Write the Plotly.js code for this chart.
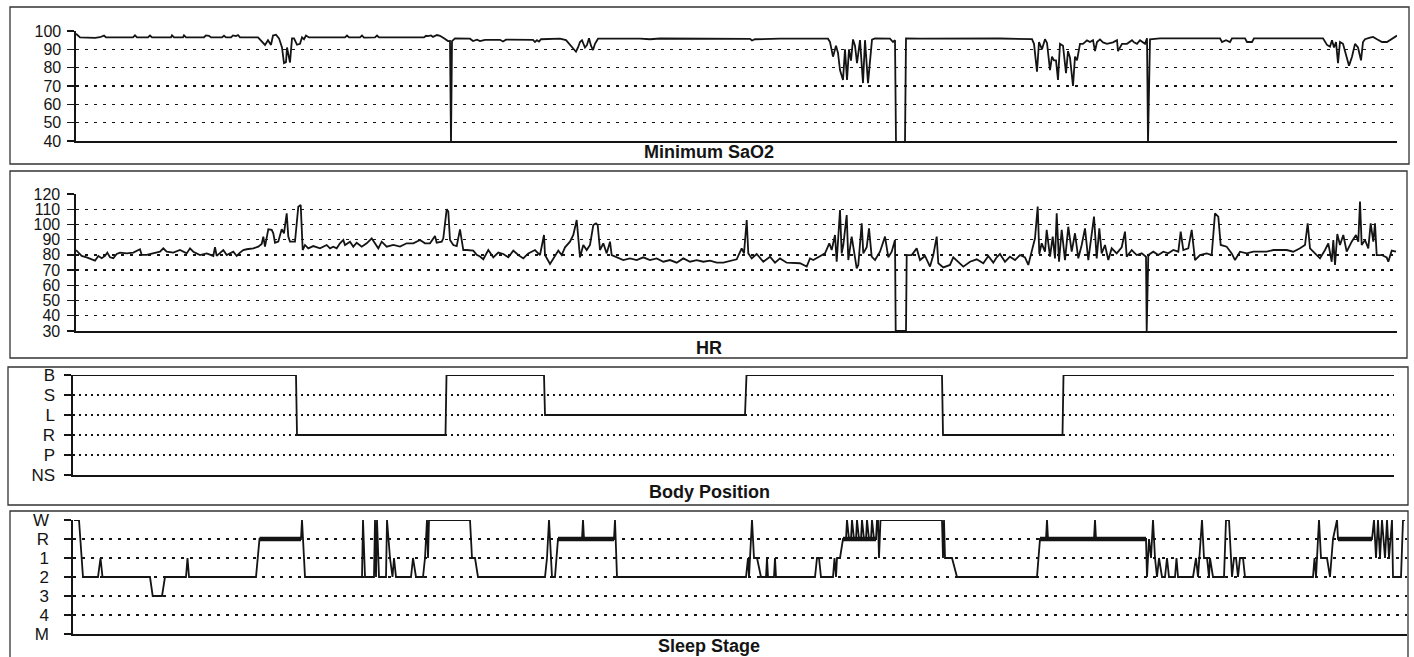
<!DOCTYPE html>
<html>
<head>
<meta charset="utf-8">
<script src="https://cdn.plot.ly/plotly-3.0.1.min.js"></script>
<style>
  html, body { margin: 0; padding: 0; background: #fff; }
  #chart { width: 1414px; height: 657px; }
</style>
</head>
<body>
<div id="chart"></div>
<script>
// Elapsed recording time in 20-second units (0 = start of the SaO2/HR plots).

// ---- Minimum SaO2 (%) ----
const sao2Time = [0,4,19,24,28,30,57,59,61,72,74,76,95,96,98,107,108,110,128,130,133,135,146,148,150,155,157,160,162,164,182,186,189,192,195,197,200,203,206,208,210,211,213,214,216,218,221,224,226,228,230,233,269,271,273,284,286,288,299,301,303,348,350,352,355,357,361,364,368,372,374,375,376,379,394,397,401,404,409,424,427,430,457,459,461,463,465,484,490,494,498,500,502,504,506,509,511,513,515,517,519,522,564,574,584,624,674,676,679,704,752,754,757,760,762,764,767,769,771,773,775,777,779,781,784,787,789,792,796,799,814,817,819,820,829,830,844,924,956,958,961,963,966,969,971,974,976,978,980,982,984,987,990,992,994,997,999,1001,1004,1007,1011,1014,1017,1019,1021,1024,1027,1031,1037,1041,1042,1046,1051,1056,1058,1061,1064,1069,1071,1072,1074,1084,1144,1146,1150,1154,1156,1169,1171,1176,1178,1247,1251,1254,1256,1258,1260,1262,1264,1267,1271,1273,1276,1279,1282,1285,1287,1289,1294,1297,1301,1306,1311,1314,1319,1321];
const sao2Value = [98.5,96.5,96.3,96.6,97.5,96.5,96.5,97.6,96.5,96.5,97.5,96.5,96.5,97.6,96.5,96.5,97.6,96.5,96.6,97.6,97.4,96.5,96.5,97.4,96.5,96.5,97.6,97.2,97.8,96.5,96.5,94,92.4,95,92.4,97.5,98,96,91,82.5,83,91,86,82.8,96,96,92.5,93,96.5,95.5,97.5,96.5,96.5,97.5,96.5,96.5,97.5,96.4,96.5,97.5,96.5,96.5,97.4,97.2,97.6,96.8,97.8,97.4,96,94.5,94.6,39,94.5,96,95.8,94.5,95.3,94.5,95.2,95.2,94.3,95.3,95.2,94,95,94.2,95.5,95.8,95,92.5,90,88.7,91,94,95,91,92.4,96,92,89.6,93,95.8,95.8,95.5,95.9,95.8,95.7,94.8,95.5,95.8,95.8,94,86,92,88,78.7,73.3,90,73.3,90,83.8,95.4,92,82.5,95,71.6,95,71.6,95.3,96,95.8,94,95,39,39,96,95.8,95.9,95.6,93,77.8,94,90,95.5,93.5,78.7,86,84,84,73.3,93,92,77,89,85.5,70,86,84,93,93,94.9,94,95,89,94,95.4,93.8,93,93.8,95,89,93,93,95,93.8,93,95,93,96,39,95.5,96,96,94,95,94,96,96,94,94,96,96,92.4,91.5,95,91,94,82.5,94,93,84,81,86,93,91,84,94,95.5,96.4,96.8,95.5,94,94,95,96.5,97.5];

// ---- HR (beats/min) ----
const hrTime = [0,5.7,10.7,15.7,19,22.3,25.7,29,31.3,34,37.3,40.7,44,50.7,57.3,64,65.7,70.7,77.3,84,87.3,90.7,97.3,104,110.7,114,117.3,124,130.7,137.3,139,140.7,147.3,150.7,157.3,160.7,164,167.3,170.7,177.3,182.3,185.7,187.3,189,192.3,195.7,197.3,199,202.3,205.7,208,210.7,212.3,214,219,222.3,224.7,226.7,229,232.3,237.3,244,250.7,254,257.3,260.7,264,267.3,269,274,277.3,280.7,285.7,290.7,295.7,299,302.3,305.7,310.7,317.3,324,330.7,337.3,344,349,354,359,360.7,365.7,367.3,370.7,372.3,374,377.3,380.7,384,385.7,387.3,390.7,397.3,400.7,404,407.3,412.3,417.3,422.3,427.3,432.3,437.3,442.3,447.3,452.3,459,464,468,469,474,477.3,482.3,485.7,489,494,497.3,500.7,504,507.3,510.7,514,517.3,520,521.7,524,527.3,530.7,534,535.7,540.7,547.3,554,560.7,567.3,574,580.7,587.3,594,600.7,607.3,614,620.7,627.3,634,640.7,647.3,654,660.7,665.7,668,670.7,672.3,675.7,680.7,687.3,694,699,704,710.7,717.3,724,730.7,734,737.3,744,749,753.3,755.7,759,760.7,764,765.7,767.3,770.7,772.3,775.7,780.7,782.3,785.7,787.3,790.7,793,795.7,799,804,809,812.3,815.7,819,819.7,830,830.7,835.7,840.7,844,849,854,857.3,860.7,862.3,867.3,874,877.3,882.3,887.3,894,900.7,907.3,912.3,917.3,920.7,924,929,934,939,944,949,952.3,955.7,959,961.7,963.3,965.7,969,970.7,974,976.7,979,980.7,983,985.7,989,992.3,995.7,999,1002.3,1005.7,1009,1012.3,1015.7,1018,1020.7,1023.3,1025.7,1029,1032.3,1035.7,1040.7,1045.7,1049,1050.7,1055.7,1060.7,1065.7,1070,1070.7,1072.3,1077.3,1082.3,1087.3,1092.3,1097.3,1102.3,1104.7,1107.3,1112.3,1115.7,1119,1124,1130.7,1135.7,1139,1142.3,1144.7,1150.7,1155.7,1159,1164,1170.7,1177.3,1184,1190.7,1197.3,1204,1210.7,1217.3,1224,1229,1231.7,1234,1239,1244,1249,1252.3,1255.7,1257.3,1259,1261.3,1264,1267.3,1270.7,1275.7,1280,1282.3,1284,1285.7,1289,1292.3,1294.7,1297.3,1299,1300.7,1305.7,1310.7,1312.3,1315.7,1320];
const hrValue = [83.2,79.3,78.4,77,76.2,79.3,77.8,79.3,81.5,78.4,77.8,80.6,81.5,81,81.5,83.7,80,80,81,82.1,84.3,82.1,81.5,83.2,81,84.3,82.1,79.9,81,79.3,85,79.3,83.2,79.9,82.1,79.3,81.5,83.2,83.7,84.3,85.4,87.2,92,85.4,96.8,96.4,94.2,88,88.7,96.8,94.2,107.3,92,88.7,88.7,111.7,112.8,83.2,86.5,84.3,85.8,84.3,86.5,84.3,85.4,84.3,87.6,89.8,86.5,88.7,85.4,88,85.4,87.6,90.9,87.6,84.3,88.7,85.4,86.5,85.4,87.6,87.6,89.8,87.6,87.6,92.4,88,88.7,90.9,110,108.5,89.8,86.5,85.8,96.8,90.9,83.2,83.2,82.8,80,78.9,77.1,83.2,78.4,81.5,80.6,78.4,82.8,79.9,77.7,81,83.2,79.9,93.1,79.9,74,77.7,82.8,79.9,85,88.7,93.1,102.9,78.4,86.5,83.2,86.5,99.6,100.7,99.6,83.2,87.6,81,88.7,79.9,78.4,76.6,77.7,76.6,78.4,76.6,77.7,75.5,76.6,74.9,77.7,75.5,76.6,75.5,76.2,74.9,74.9,76.2,77.1,84.3,81,102.9,81,77.7,80.6,75.5,78.8,74.9,77.7,74.9,74.5,74.5,72.3,77.7,76.6,79.3,81,87.6,83.2,93.1,75.5,109.5,81,86.5,106.2,76.6,92,71.2,73.4,100.7,81,85,97.4,78.8,76.6,82.1,92,78.4,82.1,89.8,30,30,79.9,79.9,84.3,76.6,79.3,72.3,79.9,92,74.5,71.8,73.4,78.4,75.5,72.3,75.5,77.1,74.5,79.3,74.9,78.4,80.6,75.5,78.8,76.6,79.9,78.4,73.4,82.1,90.9,111.7,80.6,87.6,82.1,96.4,78.8,92,77.7,107.3,75.5,96.4,76.6,98.5,82.1,94.2,77.7,86.5,97.4,76.6,94.2,105.1,77.7,97.4,81,86.5,76.6,84.3,81,85,95.3,78.8,83.2,79.9,81,78.8,30,79.9,82.1,79.9,82.1,81,83.2,82.1,95.3,83.2,84.3,96.4,76.6,79.9,81,79.9,107.3,105.1,86.5,85.4,81,76.6,82.1,81,82.1,82.1,82.1,83.2,83.2,83.2,82.1,84.3,86.5,100.7,84.3,81,77.7,83.2,87.6,75.5,89.8,73.4,93.7,86.5,93.1,82.1,88.7,93.1,88.7,115,86.5,89.8,84.3,100.7,88.7,100.7,79.9,79.9,78.4,75.5,82.8,82.1];

// ---- Body Position ----
const posCategories = ['NS','P','R','L','S','B'];
const posTime  = [-3,220,221,369.5,370.5,468,469,669,670.5,866,867,986.5,987.5,1318];
const posValue = ['B','B','R','R','B','B','L','L','B','B','R','R','B','B'];

// ---- Sleep Stage ----
const stageCategories = ['M','4','3','2','1','R','W'];
const stageTime = [-2,3,7,22,24.5,26.5,74,76.7,86,89,110,111.5,113,180,183.5,225,226,227,229,286,287,289,298,299,300,301,303,310,311,314,316.5,318,320,335,337,340,347,349,351,352,353,394,396,399,402,469,471,473,476,479,482,506,507,508,538,539,541,670,672,673,674,676,678,681,685,690,691,692,698,699,700,739,741,743,745,757,758.5,760,761,764,767,770,771,773,775,776,778,780,781,783,785,786,788,790,791,793,795,796,798,800,801,802,803,804.5,866,867,868,869,876,881,961,964,970,971,972,1018,1019,1020,1070,1071,1073,1075,1077,1079,1081,1083,1086,1089,1091,1093,1099,1100.5,1102,1117,1120,1122,1126,1128,1131,1133,1134,1137,1148,1150,1153,1156,1158,1160,1162,1164,1167,1169,1237,1238.5,1240,1242,1243,1245,1251,1254,1257,1261,1262,1296,1298,1300,1302,1304,1306,1309,1311,1313,1316,1317,1325,1327,1329];
const stageValue = ['W','W','2','2','1','2','2','3','3','2','2','1','2','2','R','R','W','R','2','2','W','2','2','W','2','W','2','2','W','1','2','1','2','2','1','2','2','1','W','1','W','W','1','1','2','2','1','W','2','2','R','R','W','R','R','W','2','2','1','2','1','W','1','1','2','2','1','2','2','1','2','2','1','1','2','2','1','2','1','1','R','R','W','R','R','W','R','R','W','R','R','W','R','R','W','R','R','W','R','R','W','W','1','W','W','1','W','1','1','2','2','R','R','W','R','R','W','R','R','2','R','1','W','1','2','1','2','2','1','2','2','1','2','2','1','2','W','1','1','2','1','2','2','W','W','2','1','1','2','1','1','2','2','1','2','R','W','1','1','2','R','W','R','R','W','1','W','1','W','1','W','1','W','2','2','W','W'];
// Dense REM stretches (drawn as a heavy band at the R level)
const remStart = [183.5,482,767,964,1262];
const remEnd   = [225,538,800,1070,1296];

const titles = ['Minimum SaO2','HR','Body Position','Sleep Stage'];

// ---------------- build ----------------
const W = 1414, H = 657;
const fx = px => px / W;
const fy = py => 1 - py / H;
const ink = '#141414';
const fontFam = 'Liberation Sans, Arial, sans-serif';
const tickFont = {family: fontFam, size: 16, color: ink};
const catFont = {family: fontFam, size: 17, color: ink};

const remX = [], remY = [];
remStart.forEach((s, i) => { remX.push(s, remEnd[i], null); remY.push('R', 'R', null); });

const traces = [
  {x: sao2Time, y: sao2Value, xaxis: 'x', yaxis: 'y', mode: 'lines', line: {color: ink, width: 1.8}, hoverinfo: 'skip'},
  {x: hrTime, y: hrValue, xaxis: 'x2', yaxis: 'y2', mode: 'lines', line: {color: ink, width: 1.8}, hoverinfo: 'skip'},
  {x: posTime, y: posValue, xaxis: 'x3', yaxis: 'y3', mode: 'lines', line: {color: ink, width: 1.8}, hoverinfo: 'skip'},
  {x: stageTime, y: stageValue, xaxis: 'x4', yaxis: 'y4', mode: 'lines', line: {color: ink, width: 1.8}, hoverinfo: 'skip'},
  {x: remX, y: remY, xaxis: 'x4', yaxis: 'y4', mode: 'lines', line: {color: ink, width: 4.5}, hoverinfo: 'skip'}
];

function xAx(anchor, x0, x1, r0, r1) {
  return {anchor: anchor, domain: [fx(x0), fx(x1)], range: [r0, r1], showgrid: false, zeroline: false,
          showline: true, linecolor: ink, linewidth: 1.6, showticklabels: false, ticks: '', fixedrange: true};
}
function yAx(anchor, y0, y1, extra) {
  return Object.assign({anchor: anchor, domain: [fy(y1), fy(y0)], showgrid: true, gridcolor: ink, gridwidth: 1.4,
          griddash: '3px,6px', zeroline: false, showline: true, linecolor: ink, linewidth: 1.6,
          ticks: 'outside', ticklen: 7, tickwidth: 1.4, tickcolor: ink, tickfont: tickFont, fixedrange: true}, extra);
}

const boxes = [[10, 7, 1409, 164], [10, 171, 1407, 358], [8, 367, 1408, 505], [10, 511, 1408, 670]];
const shapes = boxes.map(b => ({type: 'rect', xref: 'paper', yref: 'paper', x0: fx(b[0]), x1: fx(b[2]),
  y0: fy(b[3]), y1: fy(b[1]), line: {color: '#333', width: 1.3}, fillcolor: 'rgba(0,0,0,0)', layer: 'below'}));

const titleY = [152, 348, 492, 646];
const annotations = titles.map((t, i) => ({text: t, xref: 'paper', yref: 'paper', x: fx(709), y: fy(titleY[i]),
  xanchor: 'center', yanchor: 'middle', showarrow: false,
  font: {family: fontFam, size: 18, color: ink, weight: 'bold'}}));

const layout = {
  width: W, height: H, margin: {l: 0, r: 0, t: 0, b: 0}, showlegend: false,
  paper_bgcolor: '#fff', plot_bgcolor: 'rgba(0,0,0,0)',
  xaxis:  xAx('y', 76, 1397, 0, 1321),
  yaxis:  yAx('x', 31, 141, {range: [40, 100], tick0: 40, dtick: 10, ticklabelstandoff: 3}),
  xaxis2: xAx('y2', 76, 1397, 0, 1321),
  yaxis2: yAx('x2', 194, 331, {range: [30, 120], tick0: 30, dtick: 10, ticklabelstandoff: 4}),
  xaxis3: xAx('y3', 73, 1394, -3, 1318),
  yaxis3: yAx('x3', 375, 475, {type: 'category', categoryorder: 'array', categoryarray: posCategories,
           tickmode: 'array', tickvals: posCategories, ticktext: posCategories, tickfont: catFont,
           range: [0, 5], griddash: '2px,4px', ticklabelstandoff: 6}),
  xaxis4: xAx('y4', 73, 1407, -3, 1331),
  yaxis4: yAx('x4', 520, 634, {type: 'category', categoryorder: 'array', categoryarray: stageCategories,
           tickmode: 'array', tickvals: stageCategories, ticktext: stageCategories, tickfont: catFont,
           range: [0, 6], ticklabelstandoff: 12}),
  shapes: shapes,
  annotations: annotations
};

Plotly.newPlot('chart', traces, layout, {staticPlot: true, displayModeBar: false});
</script>
</body>
</html>
